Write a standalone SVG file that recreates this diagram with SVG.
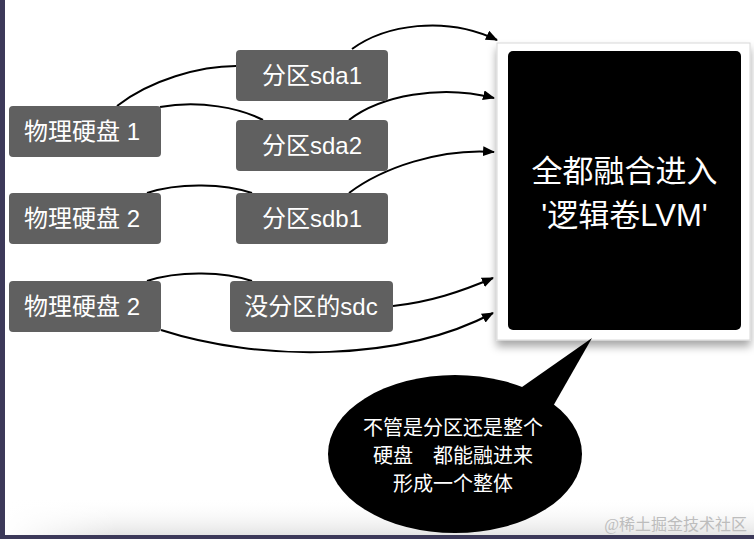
<svg xmlns="http://www.w3.org/2000/svg" width="754" height="539" viewBox="0 0 754 539">
  <defs>
    <style>
      .node rect { fill: #606060; }
      .node text { fill: #ffffff; font-family: "Liberation Sans", "Noto Sans CJK SC", sans-serif; font-size: 24px; text-anchor: middle; }
      .conn path { fill: none; stroke: #000000; stroke-width: 2; }
      .big { fill: #ffffff; font-family: "Liberation Sans", "Noto Sans CJK SC", sans-serif; font-size: 31px; text-anchor: middle; }
      .bub { fill: #ffffff; font-family: "Liberation Sans", "Noto Sans CJK SC", sans-serif; font-size: 20px; text-anchor: middle; }
    </style>
    <marker id="arrow" viewBox="0 0 12 10" refX="11" refY="5" markerWidth="12" markerHeight="10" markerUnits="userSpaceOnUse" orient="auto">
      <path d="M0,0 L12,5 L0,10 Z" fill="#000000"/>
    </marker>
    <linearGradient id="floor" x1="0" y1="0" x2="0" y2="1">
      <stop offset="0" stop-color="#ffffff" stop-opacity="0"/>
      <stop offset="1" stop-color="#e4e4e4" stop-opacity="1"/>
    </linearGradient>
    <linearGradient id="floorFade" x1="0" y1="0" x2="1" y2="0">
      <stop offset="0" stop-color="#ffffff" stop-opacity="1"/>
      <stop offset="0.15" stop-color="#ffffff" stop-opacity="0"/>
    </linearGradient>
    <filter id="shadow" x="-10%" y="-10%" width="120%" height="130%">
      <feDropShadow dx="0" dy="6" stdDeviation="4" flood-color="#000000" flood-opacity="0.35"/>
    </filter>
  </defs>

  <rect x="0" y="0" width="754" height="539" fill="#ffffff"/>
  <rect x="5" y="498" width="749" height="37" fill="url(#floor)"/>
  <rect x="5" y="498" width="749" height="37" fill="url(#floorFade)"/>
  <rect x="0" y="0" width="5" height="539" fill="#3c3959"/>
  <rect x="0" y="535" width="754" height="4" fill="#3c3959"/>

  <g id="connectors" class="conn">
    <path d="M117,106 C150,80 200,66 236,66"/>
    <path d="M160,107 C200,100 240,108 263,120"/>
    <path d="M147,193 C180,182 225,184 252,193"/>
    <path d="M147,281 C180,270 225,272 252,281"/>
    <path d="M352,49 C385,25 445,15 497,40" marker-end="url(#arrow)"/>
    <path d="M349,120 C380,96 440,84 494,98" marker-end="url(#arrow)"/>
    <path d="M349,193 C382,168 440,148 494,152" marker-end="url(#arrow)"/>
    <path d="M393,306 C430,302 460,292 493,278" marker-end="url(#arrow)"/>
    <path d="M161,330 C260,362 400,362 493,313" marker-end="url(#arrow)"/>
  </g>

  <g id="disk1" class="node">
    <rect x="9" y="106" width="152" height="51" rx="4"/>
    <text x="82" y="140">物理硬盘 1</text>
  </g>
  <g id="disk2a" class="node">
    <rect x="9" y="193" width="152" height="51" rx="4"/>
    <text x="82" y="227">物理硬盘 2</text>
  </g>
  <g id="disk2b" class="node">
    <rect x="9" y="281" width="152" height="51" rx="4"/>
    <text x="82" y="315">物理硬盘 2</text>
  </g>
  <g id="sda1" class="node">
    <rect x="236" y="50" width="152" height="51" rx="4"/>
    <text x="312" y="84">分区sda1</text>
  </g>
  <g id="sda2" class="node">
    <rect x="236" y="120" width="152" height="51" rx="4"/>
    <text x="312" y="154">分区sda2</text>
  </g>
  <g id="sdb1" class="node">
    <rect x="236" y="193" width="152" height="51" rx="4"/>
    <text x="312" y="227">分区sdb1</text>
  </g>
  <g id="sdc" class="node">
    <rect x="230" y="281" width="163" height="51" rx="4"/>
    <text x="311" y="315">没分区的sdc</text>
  </g>

  <g id="lvm">
    <rect x="497" y="43" width="253" height="297" fill="#ffffff" stroke="#d8d8d8" stroke-width="1" filter="url(#shadow)"/>
    <rect x="508" y="51" width="233" height="279" rx="5" fill="#000000"/>
    <text class="big" x="624.5" y="182">全都融合进入</text>
    <text class="big" x="624.5" y="226">'逻辑卷LVM'</text>
  </g>

  <g id="bubble">
    <path d="M592,338 L512,394 L552,408 Z" fill="#000000"/>
    <ellipse cx="455" cy="454" rx="127" ry="79" fill="#000000"/>
    <text class="bub" x="453" y="435">不管是分区还是整个</text>
    <text class="bub" x="453" y="463">硬盘　都能融进来</text>
    <text class="bub" x="453" y="491">形成一个整体</text>
  </g>

  <text x="747" y="530" fill="#bdbdbd" font-family="'Liberation Serif', 'Noto Sans CJK SC', serif" font-size="16" text-anchor="end">@稀土掘金技术社区</text>
</svg>
